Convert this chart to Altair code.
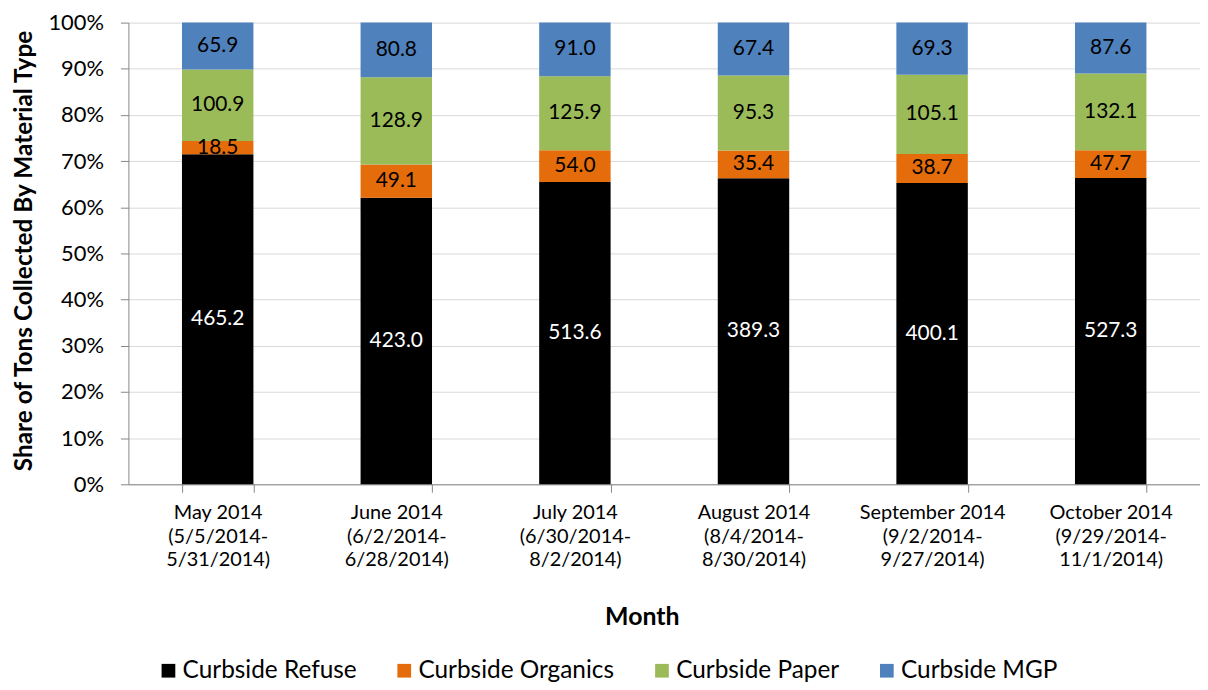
import altair as alt
import pandas as pd

months = [
    "May 2014|(5/5/2014-|5/31/2014)",
    "June 2014|(6/2/2014-|6/28/2014)",
    "July 2014|(6/30/2014-|8/2/2014)",
    "August 2014|(8/4/2014-|8/30/2014)",
    "September 2014|(9/2/2014-|9/27/2014)",
    "October 2014|(9/29/2014-|11/1/2014)",
]
materials = ["Curbside Refuse", "Curbside Organics", "Curbside Paper", "Curbside MGP"]
colors = ["#000000", "#E46C0A", "#9BBB59", "#4F81BD"]

refuse = [465.2, 423.0, 513.6, 389.3, 400.1, 527.3]
organics = [18.5, 49.1, 54.0, 35.4, 38.7, 47.7]
paper = [100.9, 128.9, 125.9, 95.3, 105.1, 132.1]
mgp = [65.9, 80.8, 91.0, 67.4, 69.3, 87.6]

series = [refuse, organics, paper, mgp]
rows = []
for k, (mat, vals) in enumerate(zip(materials, series)):
    for m, v in zip(months, vals):
        rows.append({"month": m, "material": mat, "tons": v, "ord": k})
df = pd.DataFrame(rows)

FONT = "Lato"
GRID = "#d9d9d9"
AXC = "#868686"

xenc = alt.X(
    "month:N",
    sort=months,
    scale=alt.Scale(paddingInner=0.6, paddingOuter=0.3),
    axis=alt.Axis(
        title="Month",
        labelExpr="split(datum.label, '|')",
        labelAngle=0,
        labelFontSize=20,
        labelLineHeight=24,
        labelPadding=10,
        labelColor="#000000",
        labelFont=FONT,
        tickBand="extent",
        tickSize=8,
        tickColor=AXC,
        domainColor=AXC,
        titleFont=FONT,
        titleFontSize=25,
        titleFontWeight="bold",
        titleColor="#000000",
        titleX=516,
        titleY=133,
        titleBaseline="middle",
    ),
)

bars = alt.Chart(df).mark_bar().encode(
    x=xenc,
    y=alt.Y(
        "tons:Q",
        stack="normalize",
        scale=alt.Scale(domain=[0, 1]),
        axis=alt.Axis(
            title="Share of Tons Collected By Material Type",
            format=".0%",
            values=[i / 10 for i in range(11)],
            grid=True,
            gridColor=GRID,
            domainColor=AXC,
            tickColor=AXC,
            tickSize=8,
            labelFontSize=22,
            labelFont=FONT,
            labelColor="#000000",
            labelPadding=17,
            titleFont=FONT,
            titleFontSize=24.5,
            titleFontWeight="bold",
            titleColor="#000000",
            titleX=-104,
            titleY=229,
            titleBaseline="middle",
        ),
    ),
    color=alt.Color(
        "material:N",
        scale=alt.Scale(domain=materials, range=colors),
        legend=alt.Legend(
            title=None,
            orient="none",
            direction="horizontal",
            legendX=28,
            legendY=639,
            symbolType="square",
            symbolSize=190,
            symbolStrokeWidth=0,
            labelFontSize=24.5,
            labelFont=FONT,
            labelColor="#000000",
            labelLimit=0,
            columnPadding=35,
            labelOffset=2,
        ),
    ),
    order=alt.Order("ord:Q", sort="ascending"),
)

labels = (
    alt.Chart(df)
    .transform_stack(
        stack="tons",
        groupby=["month"],
        as_=["y0", "y1"],
        offset="normalize",
        sort=[alt.SortField("ord", order="ascending")],
    )
    .transform_calculate(mid="(datum.y0 + datum.y1) / 2")
    .mark_text(fontSize=21, font=FONT, baseline="middle", align="center")
    .encode(
        x=alt.X("month:N", sort=months),
        y=alt.Y("mid:Q"),
        text=alt.Text("tons:Q", format=".1f"),
        color=alt.condition(
            alt.datum.material == "Curbside Refuse",
            alt.value("#ffffff"),
            alt.value("#000000"),
        ),
    )
)

chart = (
    alt.layer(bars, labels)
    .properties(
        width=1077,
        height=464,
        autosize=alt.AutoSizeParams(type="none"),
        padding={"left": 121, "top": 13, "right": 0, "bottom": 197},
    )
    .configure_view(stroke=None)
)

chart.save("out.html", embed_options={"renderer": "svg", "actions": False})
